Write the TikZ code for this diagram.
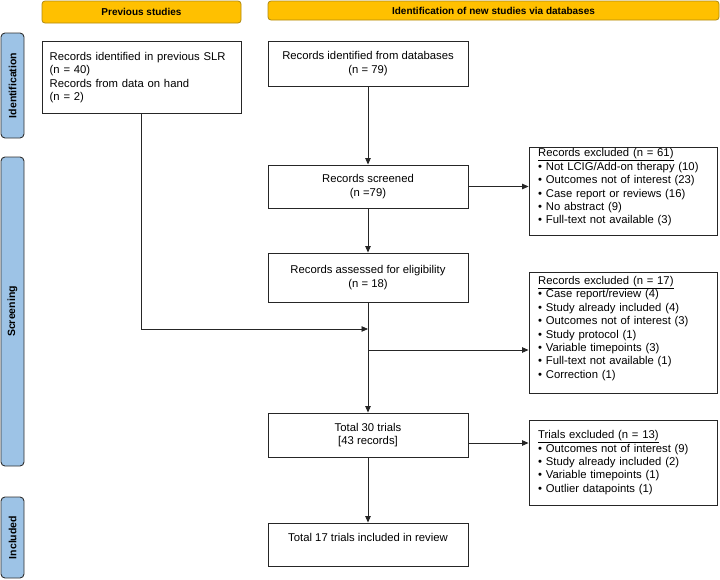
\documentclass[tikz,border=0pt]{standalone}
\usepackage{fontspec}
\setmainfont{Liberation Sans}
\usetikzlibrary{arrows.meta}
\definecolor{bannerfill}{HTML}{FFC000}
\definecolor{bannerdraw}{HTML}{B08A10}
\definecolor{sidefill}{HTML}{9DC3E6}
\definecolor{sidedraw}{HTML}{303030}
\begin{document}
\begin{tikzpicture}[x=1pt,y=-1pt,
  box/.style={draw=black!85, line width=0.9pt, fill=white, inner sep=0pt,
    font=\fontsize{11.3}{13.4}\selectfont},
  cbox/.style={box, align=center},
  txt/.style={inner sep=0pt, align=left, text width=#1,
    font=\fontsize{11.3}{13.4}\selectfont},
  banner/.style={draw=bannerdraw, fill=bannerfill, line width=0.8pt, rounded corners=3pt,
    font=\fontsize{10}{12}\selectfont\bfseries, inner sep=0pt},
  side/.style={draw=sidedraw, fill=sidefill, line width=0.9pt, rounded corners=4pt,
    font=\fontsize{10.5}{12}\selectfont\bfseries, inner sep=0pt},
  arr/.style={draw=black!85, line width=0.85pt, -{Triangle[length=6.5pt,width=5.5pt]}}]
\useasboundingbox (0,0) rectangle (720,579);

% banners
\node[banner, minimum width=199pt, minimum height=22pt] (bprev) at (141.5,12) {Previous studies};
\node[banner, minimum width=451pt, minimum height=19pt] (bnew) at (493.5,10.5) {Identification of new studies via databases};

% side bars
\node[side, minimum width=105pt, minimum height=23pt, rotate=90] (sid) at (12.5,85.5) {Identification};
\node[side, minimum width=309pt, minimum height=23pt, rotate=90] (sscr) at (12.5,311.5) {Screening};
\node[side, minimum width=81pt, minimum height=23pt, rotate=90] (sinc) at (12.5,537.5) {Included};

% main boxes
\node[box, minimum width=199pt, minimum height=72pt] (prev) at (141.5,77) {};
\node[txt=185pt, anchor=west] (prevtext) at (49.5,77.5) {Records identified in previous SLR\\(n = 40)\\Records from data on hand\\(n = 2)};

\node[cbox, minimum width=200pt, minimum height=45pt] (db) at (368,63.5) {Records identified from databases\\(n = 79)};
\node[cbox, minimum width=200pt, minimum height=43pt] (scr) at (368,186.5) {Records screened\\(n =79)};
\node[cbox, minimum width=200pt, minimum height=49pt] (elig) at (368,277.5) {Records assessed for eligibility\\(n = 18)};
\node[cbox, minimum width=200pt, minimum height=44pt] (t30) at (368,435) {Total 30 trials\\{[43 records]}};
\node[cbox, minimum width=200pt, minimum height=43pt] (t17) at (368,544.5) {Total 17 trials included in review\\\mbox{}};

% excluded boxes
\node[box, minimum width=188pt, minimum height=88pt] (ex1) at (623,191) {};
\node[txt=175pt, anchor=west] (ex1t) at (538,187.5) {\underline{Records excluded (n = 61)}\\
  • Not LCIG/Add-on therapy (10)\\
  • Outcomes not of interest (23)\\
  • Case report or reviews (16)\\
  • No abstract (9)\\
  • Full-text not available (3)};
\node[box, minimum width=188pt, minimum height=121pt] (ex2) at (623,332.5) {};
\node[txt=175pt, anchor=west] (ex2t) at (538,328.5) {\underline{Records excluded (n = 17)}\\
  • Case report/review (4)\\
  • Study already included (4)\\
  • Outcomes not of interest (3)\\
  • Study protocol (1)\\
  • Variable timepoints (3)\\
  • Full-text not available (1)\\
  • Correction (1)};
\node[box, minimum width=188pt, minimum height=85pt] (ex3) at (623,462.5) {};
\node[txt=175pt, anchor=west] (ex3t) at (538,462.5) {\underline{Trials excluded (n = 13)}\\
  • Outcomes not of interest (9)\\
  • Study already included (2)\\
  • Variable timepoints (1)\\
  • Outlier datapoints (1)};

% connectors
\coordinate (j1) at (368,329);
\coordinate (j2) at (368,350);
\draw[arr] (db.south) -- (scr.north);
\draw[arr] (scr.east) -- (scr.east -| ex1.west);
\draw[arr] (scr.south) -- (elig.north);
\draw[arr] (elig.south) -- (t30.north);
\draw[arr] (prev.south) |- (j1);
\draw[arr] (j2) -- (j2 -| ex2.west);
\draw[arr] ([yshift=-8pt]t30.east) -- ([yshift=-8pt]t30.east -| ex3.west);
\draw[arr] (t30.south) -- (t17.north);
\end{tikzpicture}
\end{document}
